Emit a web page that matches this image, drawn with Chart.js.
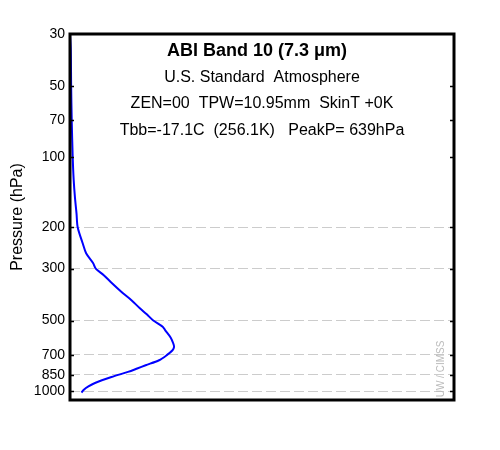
<!DOCTYPE html>
<html>
<head>
<meta charset="utf-8">
<script src="https://cdn.jsdelivr.net/npm/chart.js@4"></script>
<style>
  html, body { margin: 0; padding: 0; background: #fff; }
  #wrap { width: 500px; height: 450px; }
</style>
</head>
<body>
<div id="wrap"><canvas id="wf"></canvas></div>
<script>
// weighting function (pressure in hPa, weight in plot units)
const pressures = [30, 35, 50, 70, 100, 125, 150, 175, 200, 234, 258, 284, 300, 320, 342, 382, 409, 443, 470, 498, 532, 550, 590, 626, 647, 669, 702, 738, 775, 800, 827, 870, 922, 953, 985, 1014];
const weights = [0.000, 0.002, 0.003, 0.0045, 0.007, 0.0095, 0.013, 0.017, 0.020, 0.033, 0.042, 0.060, 0.067, 0.088, 0.106, 0.138, 0.160, 0.182, 0.200, 0.216, 0.242, 0.248, 0.262, 0.269, 0.271, 0.267, 0.252, 0.232, 0.197, 0.175, 0.151, 0.108, 0.065, 0.048, 0.036, 0.030];

const pressureTicks = [30, 50, 70, 100, 200, 300, 500, 700, 850, 1000];
const gridLevels = [200, 300, 500, 700, 850, 1000];

const infoLines = [
  "U.S. Standard  Atmosphere",
  "ZEN=00  TPW=10.95mm  SkinT +0K",
  "Tbb=-17.1C  (256.1K)   PeakP= 639hPa",
];
const chartTitle = "ABI Band 10 (7.3 \u03bcm)";

const FONT = "'Liberation Sans', Arial, Helvetica, sans-serif";

// frame, inside ticks, header text and watermark
const framePlugin = {
  id: "frame",
  afterDraw(chart) {
    const ctx = chart.ctx;
    const a = chart.chartArea;
    const y = chart.scales.y;
    ctx.save();

    ctx.strokeStyle = "#000";
    ctx.lineWidth = 1.5;
    pressureTicks.forEach((p) => {
      if (p === 30) return;
      const py = Math.round(y.getPixelForValue(p)) + 0.5;
      ctx.beginPath();
      ctx.moveTo(a.left, py);
      ctx.lineTo(a.left + 4, py);
      ctx.moveTo(a.right, py);
      ctx.lineTo(a.right - 4, py);
      ctx.stroke();
    });

    ctx.lineWidth = 3;
    ctx.strokeRect(a.left, a.top, a.right - a.left, a.bottom - a.top);

    const cx = (a.left + a.right) / 2;
    ctx.fillStyle = "#000";
    ctx.textAlign = "center";
    ctx.textBaseline = "middle";
    ctx.font = "bold 18px " + FONT;
    ctx.fillText(chartTitle, cx - 5, 51);
    ctx.font = "16px " + FONT;
    const rows = [78, 104, 131];
    infoLines.forEach((t, i) => ctx.fillText(t, cx, rows[i]));

    ctx.translate(a.right - 13, a.bottom - 31);
    ctx.rotate(-Math.PI / 2);
    ctx.fillStyle = "#bbb";
    ctx.font = "10px " + FONT;
    ctx.fillText("UW / CIMSS", 0, 0);
    ctx.restore();
  },
};

const ctx = document.getElementById("wf").getContext("2d");
new Chart(ctx, {
  type: "line",
  data: {
    datasets: [
      {
        data: pressures.map((p, i) => ({ x: weights[i], y: p })),
        borderColor: "#0000ff",
        borderWidth: 2,
        pointRadius: 0,
        fill: false,
        tension: 0.3,
      },
    ],
  },
  options: {
    responsive: true,
    maintainAspectRatio: false,
    animation: false,
    layout: { padding: { left: 0, top: 34, right: 46, bottom: 50 } },
    plugins: {
      legend: { display: false },
      tooltip: { enabled: false },
    },
    scales: {
      x: { type: "linear", min: 0, max: 1, display: false },
      y: {
        type: "logarithmic",
        reverse: true,
        min: 30,
        max: 1090,
        afterBuildTicks: (scale) => {
          scale.ticks = pressureTicks.map((v) => ({ value: v }));
        },
        afterFit: (scale) => {
          scale.width = 70;
        },
        ticks: {
          color: "#000",
          padding: 5,
          font: { family: FONT, size: 14 },
          callback: (v) => String(v),
        },
        grid: {
          drawTicks: false,
          lineWidth: 1,
          color: (c) => (c.tick && gridLevels.includes(c.tick.value) ? "#cccccc" : "rgba(0,0,0,0)"),
        },
        border: { display: false, dash: [10, 4] },
        title: {
          display: true,
          text: "Pressure (hPa)",
          color: "#000",
          font: { family: FONT, size: 16 },
          padding: { top: 8, bottom: 0 },
        },
      },
    },
  },
  plugins: [framePlugin],
});
</script>
</body>
</html>
